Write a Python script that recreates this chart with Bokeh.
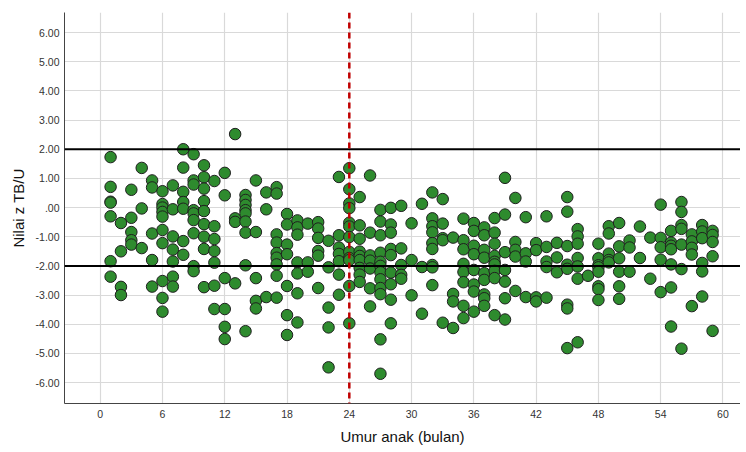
from bokeh.plotting import figure
from bokeh.models import Span, FixedTicker, Range1d
from bokeh.embed import file_html
from bokeh.resources import INLINE

# ---- data (age in months, height-for-age z score) ----
age_months = (
    [1] * 7 + [2] * 4 + [3] * 5 + [4] * 3 + [5] * 5 + [6] * 10 + [7] * 7 + [8] * 7 + [9] * 9 + [10] * 9
    + [11] * 7 + [12] * 6 + [13] * 4 + [14] * 9 + [15] * 5 + [16] * 3 + [17] * 9 + [18] * 7 + [19] * 7 + [20] * 3
    + [21] * 6 + [22] * 5 + [23] * 7 + [24] * 12 + [25] * 9 + [26] * 7 + [27] * 12 + [28] * 9 + [29] * 5 + [30] * 3
    + [31] * 3 + [32] * 9 + [33] * 5 + [34] * 4 + [35] * 8 + [36] * 8 + [37] * 9 + [38] * 9 + [39] * 7 + [40] * 5
    + [41] * 4 + [42] * 4 + [43] * 5 + [44] * 3 + [45] * 8 + [46] * 7 + [47] * 1 + [48] * 8 + [49] * 5 + [50] * 6
    + [51] * 3 + [52] * 2 + [53] * 2 + [54] * 5 + [55] * 7 + [56] * 7 + [57] * 5 + [58] * 6 + [59] * 5
)
z_scores = [
    1.73, 0.71, 0.20, 0.17, -0.30, -1.84, -2.37,                      # 1
    -0.53, -1.50, -2.72, -3.00,                                        # 2
    0.61, -0.35, -0.84, -1.12, -1.27,                                  # 3
    1.36, -0.03, -1.39,                                                # 4
    0.93, 0.69, -0.89, -1.80, -2.71,                                   # 5
    0.56, 0.12, 0.00, -0.15, -0.31, -0.77, -1.22, -2.52, -3.10, -3.57, # 6
    0.76, -0.06, -0.99, -1.44, -1.85, -2.37, -2.71,                    # 7
    2.00, 1.37, 0.54, 0.19, -0.04, -1.15, -1.62,                       # 8
    1.83, 0.93, 0.79, -0.09, -0.20, -0.43, -0.88, -2.01, -2.18,        # 9
    1.45, 1.04, 0.65, 0.22, -0.12, -0.57, -1.00, -1.42, -2.73,         # 10
    0.91, -0.64, -1.08, -1.49, -1.89, -2.68, -3.48,                    # 11
    1.19, 0.42, -2.42, -3.48, -4.09, -4.51,                            # 12
    2.52, -0.37, -0.49, -2.60,                                         # 13
    0.43, 0.26, 0.09, -0.09, -0.20, -0.48, -0.86, -1.98, -4.24,        # 14
    0.93, -0.84, -2.42, -3.20, -3.46,                                  # 15
    0.52, -0.06, -3.07,                                                # 16
    0.70, 0.48, -0.92, -1.20, -1.56, -1.72, -1.95, -2.34, -3.09,       # 17
    -0.22, -0.58, -1.27, -1.60, -2.69, -3.69, -4.37,                   # 18
    -0.44, -0.68, -0.93, -1.88, -2.26, -2.94, -3.94,                   # 19
    -0.55, -1.88, -2.20,                                               # 20
    -0.50, -0.72, -1.04, -1.49, -1.65, -2.76,                          # 21
    -1.14, -2.05, -3.43, -4.11, -5.48,                                 # 22
    1.05, -0.95, -1.37, -1.59, -1.84, -2.30, -2.99,                    # 23
    1.35, 0.63, 0.14, -0.02, -0.52, -0.65, -1.01, -1.52, -1.73, -1.80, -2.69, -3.97,  # 24
    0.36, -0.61, -1.07, -1.51, -1.66, -1.80, -2.07, -2.30, -2.55,      # 25
    1.10, -0.86, -1.64, -1.82, -2.09, -2.77, -3.39,                    # 26
    -0.08, -0.48, -0.95, -1.55, -1.86, -2.00, -2.22, -2.46, -2.76, -2.97, -4.52, -5.70,  # 27
    -0.01, -0.58, -0.86, -1.42, -1.63, -2.23, -2.63, -3.16, -3.97,     # 28
    0.06, -1.40, -1.97, -2.31, -2.44,                                  # 29
    -0.54, -1.80, -3.01,                                               # 30
    0.13, -2.04, -3.64,                                                # 31
    0.52, -0.37, -0.64, -0.85, -1.22, -1.42, -1.97, -2.05, -2.66,      # 32
    0.29, -0.55, -1.05, -1.12, -3.95,                                  # 33
    -1.03, -2.96, -3.22, -4.13,                                        # 34
    -0.38, -1.12, -1.43, -1.93, -2.21, -2.56, -3.37, -3.79,            # 35
    -0.53, -0.80, -1.31, -1.60, -2.14, -2.64, -2.88, -3.57,            # 36
    -0.68, -0.95, -1.45, -1.72, -2.25, -2.48, -2.98, -3.11, -3.37,     # 37
    -0.36, -0.86, -1.24, -1.66, -1.86, -1.95, -2.17, -2.42, -3.69,     # 38
    1.02, -0.24, -1.53, -2.14, -2.54, -3.11, -3.84,                    # 39
    0.33, -1.18, -1.45, -1.68, -2.86,                                  # 40
    -0.33, -1.57, -1.85, -3.07,                                        # 41
    -1.22, -1.46, -3.08, -3.22,                                        # 42
    -0.30, -1.35, -1.85, -2.04, -3.09,                                 # 43
    -1.21, -1.71, -2.22,                                               # 44
    0.36, -0.14, -1.32, -1.96, -2.10, -3.33, -3.46, -4.82,             # 45
    -0.74, -0.99, -1.24, -1.73, -2.02, -2.44, -4.62,                   # 46
    -2.34,                                                             # 47
    -1.24, -1.74, -1.98, -2.05, -2.20, -2.70, -2.80, -3.17,            # 48
    -0.64, -0.89, -1.58, -1.80, -1.88,                                 # 49
    -0.53, -1.33, -1.74, -2.20, -2.70, -3.13,                          # 50
    -1.13, -1.37, -2.20,                                               # 51
    -0.65, -1.73,                                                      # 52
    -1.03, -2.44,                                                      # 53
    0.10, -1.04, -1.36, -1.79, -2.90,                                  # 54
    -0.80, -1.20, -1.31, -1.43, -1.95, -2.74, -4.08,                   # 55
    0.19, -0.15, -0.60, -0.73, -1.27, -2.11, -4.84,                    # 56
    -0.92, -1.16, -1.38, -1.61, -3.38,                                 # 57
    -0.60, -0.82, -1.05, -1.90, -2.19, -3.05,                          # 58
    -0.80, -0.94, -1.18, -1.67, -4.23,                                 # 59
]

x_ticks = [0, 6, 12, 18, 24, 30, 36, 42, 48, 54, 60]
y_ticks = [-6, -5, -4, -3, -2, -1, 0, 1, 2, 3, 4, 5, 6]
y_tick_labels = ["-6.00", "-5.00", "-4.00", "-3.00", "-2.00", "-1.00", ".00",
                 "1.00", "2.00", "3.00", "4.00", "5.00", "6.00"]
cutoff_lines = [2, -2]
age_marker = 24

x_title = "Umur anak (bulan)"
y_title = "Nilai z TB/U"

FONT = "Liberation Sans"

p = figure(width=740, height=448, output_backend="svg", toolbar_location=None,
           x_range=Range1d(-3.44, 61.69), y_range=Range1d(-6.72, 6.69),
           min_border_left=64, min_border_right=0, min_border_top=12, min_border_bottom=45)
p.outline_line_color = None
p.background_fill_color = "white"
p.border_fill_color = "white"

p.xaxis.ticker = FixedTicker(ticks=x_ticks)
p.yaxis.ticker = FixedTicker(ticks=y_ticks)
p.yaxis.major_label_overrides = {t: lab for t, lab in zip(y_ticks, y_tick_labels)}

for ax in (p.xaxis, p.yaxis):
    ax.axis_line_color = "#444444"
    ax.axis_line_width = 1
    ax.major_tick_in = 0
    ax.major_tick_out = 0
    ax.minor_tick_in = 0
    ax.minor_tick_out = 0
    ax.major_label_text_font = FONT
    ax.major_label_text_font_size = "10.5px"
    ax.major_label_text_color = "#333333"
    ax.axis_label_text_font = FONT
    ax.axis_label_text_font_size = "15px"
    ax.axis_label_text_font_style = "normal"
    ax.axis_label_text_color = "#111111"

p.xaxis.axis_label = x_title
p.yaxis.axis_label = y_title
p.xaxis.major_label_standoff = 6
p.xaxis.axis_label_standoff = 7
p.yaxis.major_label_standoff = 5
p.yaxis.axis_label_standoff = 6

p.xgrid.grid_line_color = "#d9d9d9"
p.ygrid.grid_line_color = "#d9d9d9"
p.xgrid.grid_line_width = 1.2
p.ygrid.grid_line_width = 1.2

p.scatter(age_months, z_scores, size=11.5, fill_color="#2e8b2e",
          line_color="#1f1f1f", line_width=1)

for loc in cutoff_lines:
    p.add_layout(Span(location=loc, dimension="width", line_color="black", line_width=2))
p.add_layout(Span(location=age_marker, dimension="height", line_color="#c00000",
                  line_width=2.5, line_dash="6 4"))

open("out.html", "w").write(file_html(p, INLINE))
